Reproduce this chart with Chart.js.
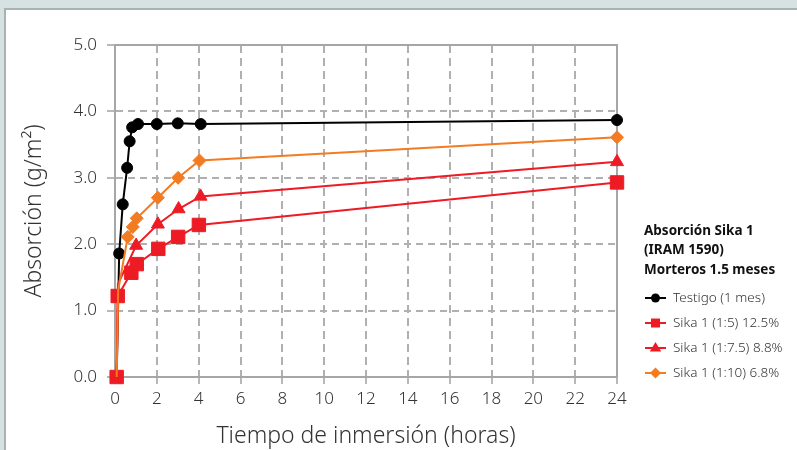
<!DOCTYPE html>
<html>
<head>
<meta charset="utf-8">
<script src="https://cdn.jsdelivr.net/npm/chart.js@4/dist/chart.umd.min.js"></script>
<style>
  html, body { margin: 0; padding: 0; }
  #page { position: relative; width: 797px; height: 450px; background: #d6e2e2; overflow: hidden; }
  #panel { position: absolute; left: 4px; top: 8px; right: 0; bottom: 0; background: #fff;
           border-left: 2px solid #a9b2b2; border-top: 2px solid #a9b2b2; }
  #absChart { position: absolute; left: 0; top: 0; }
</style>
</head>
<body>
<div id="page">
  <div id="panel"></div>
  <canvas id="absChart" width="797" height="450"></canvas>
</div>
<script>
// values (x = horas, y = g/m2)
const seriesNames = ['Testigo (1 mes)', 'Sika 1 (1:5) 12.5%', 'Sika 1 (1:7.5) 8.8%', 'Sika 1 (1:10) 6.8%'];

const testigoX = [0.08, 0.2, 0.37, 0.58, 0.7, 0.82, 1.1, 2, 3, 4.1, 24];
const testigoY = [0, 1.86, 2.6, 3.15, 3.55, 3.76, 3.81, 3.81, 3.82, 3.81, 3.87];

const sika15X = [0.08, 0.13, 0.78, 1.04, 2.07, 3.02, 4.01, 24];
const sika15Y = [0, 1.22, 1.57, 1.70, 1.93, 2.11, 2.29, 2.93];

const sika175X = [0.08, 0.14, 1.01, 2.05, 3.04, 4.09, 24];
const sika175Y = [0, 1.4, 1.98, 2.3, 2.53, 2.72, 3.24];

const sika110X = [0.08, 0.15, 0.61, 0.85, 1.04, 2.05, 3.02, 4.04, 24];
const sika110Y = [0, 1.3, 2.11, 2.26, 2.39, 2.70, 3.00, 3.26, 3.61];

const xTicks = [0, 2, 4, 6, 8, 10, 12, 14, 16, 18, 20, 22, 24];
const yTicks = [0, 1, 2, 3, 4, 5];

const legendTitle = ['Absorción Sika 1', '(IRAM 1590)', 'Morteros 1.5 meses'];

const FONT = "'Noto Sans', 'DejaVu Sans', sans-serif";
const TXT = '#333333';
const GRID = '#b0b0b0';

const toPoints = (xs, ys) => xs.map((x, i) => ({ x: x, y: ys[i] }));

// marker hidden on the points where the reference shows none
const radii = (n, hidden, r) => Array.from({ length: n }, (_, i) => hidden.includes(i) ? 0 : r);

const colors = ['#000000', '#ed1c24', '#ed1c24', '#f37b21'];
const styles = ['circle', 'rect', 'triangle', 'rectRot'];
const sizes = [5.5, 9.5, 7.5, 6.5];

const datasets = [
  { x: testigoX, y: testigoY, hidden: [0] },
  { x: sika15X, y: sika15Y, hidden: [] },
  { x: sika175X, y: sika175Y, hidden: [0, 1] },
  { x: sika110X, y: sika110Y, hidden: [0, 1] },
].map((s, i) => ({
  label: seriesNames[i],
  data: toPoints(s.x, s.y),
  borderColor: colors[i],
  backgroundColor: colors[i],
  borderWidth: 2,
  pointStyle: styles[i],
  pointRadius: radii(s.x.length, s.hidden, sizes[i]),
  pointBorderWidth: 1,
  pointHoverRadius: radii(s.x.length, s.hidden, sizes[i]),
  tension: 0,
  clip: false,
  order: 3 - i,
}));

// solid frame around the plot area
const framePlugin = {
  id: 'frame',
  beforeDatasetsDraw(chart) {
    const { ctx, chartArea: a } = chart;
    ctx.save();
    ctx.strokeStyle = '#a6a6a6';
    ctx.lineWidth = 2;
    ctx.strokeRect(a.left, a.top, a.right - a.left, a.bottom - a.top);
    ctx.restore();
  }
};

function marker(ctx, style, x, y, r) {
  ctx.beginPath();
  if (style === 'circle') {
    ctx.arc(x, y, r, 0, Math.PI * 2);
  } else if (style === 'rect') {
    ctx.rect(x - r, y - r, 2 * r, 2 * r);
  } else if (style === 'triangle') {
    ctx.moveTo(x, y - r);
    ctx.lineTo(x + r * 0.95, y + r * 0.6);
    ctx.lineTo(x - r * 0.95, y + r * 0.6);
    ctx.closePath();
  } else {
    ctx.moveTo(x, y - r);
    ctx.lineTo(x + r, y);
    ctx.lineTo(x, y + r);
    ctx.lineTo(x - r, y);
    ctx.closePath();
  }
  ctx.fill();
}

// legend with its three-line bold heading, at the right of the plot
const legendPlugin = {
  id: 'sideLegend',
  afterDraw(chart) {
    const ctx = chart.ctx;
    ctx.save();
    ctx.fillStyle = '#111';
    ctx.textBaseline = 'middle';
    ctx.font = "bold 13.5px " + FONT;
    legendTitle.forEach((t, i) => ctx.fillText(t, 644, 231 + i * 19.5));
    ctx.font = "300 13.5px " + FONT;
    const legendSizes = [4.5, 4.5, 6, 5.5];
    chart.data.datasets.forEach((ds, i) => {
      const y = 298 + i * 25;
      ctx.strokeStyle = ds.borderColor;
      ctx.fillStyle = ds.borderColor;
      ctx.lineWidth = 2;
      ctx.beginPath();
      ctx.moveTo(645, y);
      ctx.lineTo(666, y);
      ctx.stroke();
      marker(ctx, styles[i], 655.5, y, legendSizes[i]);
      ctx.fillStyle = TXT;
      ctx.fillText(ds.label, 673, y);
    });
    ctx.restore();
  }
};

new Chart(document.getElementById('absChart').getContext('2d'), {
  type: 'line',
  data: { datasets: datasets },
  plugins: [framePlugin, legendPlugin],
  options: {
    responsive: false,
    animation: false,
    devicePixelRatio: 1,
    layout: { padding: { left: 0, top: 45, right: 180, bottom: 0 } },
    plugins: { legend: { display: false }, tooltip: { enabled: false } },
    scales: {
      x: {
        type: 'linear',
        min: 0,
        max: 24,
        afterBuildTicks: (s) => { s.ticks = xTicks.map(v => ({ value: v })); },
        afterFit: (s) => { s.height = 73; },
        grid: { color: GRID, lineWidth: 2, tickLength: 7, tickColor: '#a0a0a0', tickWidth: 1.5 },
        border: { display: true, color: '#a6a6a6', width: 2, dash: [8, 5] },
        ticks: { color: TXT, font: { family: FONT, size: 17, weight: 300 }, padding: 5, maxRotation: 0 },
        title: { display: true, text: 'Tiempo de inmersión (horas)', color: TXT,
                 font: { family: FONT, size: 23, weight: 300 }, padding: { top: 0, bottom: 0 } },
      },
      y: {
        type: 'linear',
        min: 0,
        max: 5,
        afterBuildTicks: (s) => { s.ticks = yTicks.map(v => ({ value: v })); },
        afterFit: (s) => { s.width = 115; },
        grid: { color: GRID, lineWidth: 2, tickLength: 8, tickColor: '#a0a0a0', tickWidth: 1.5 },
        border: { display: true, color: '#a6a6a6', width: 2, dash: [7, 5] },
        ticks: { color: TXT, font: { family: FONT, size: 17, weight: 300 }, padding: 10,
                 callback: (v) => Number(v).toFixed(1) },
        title: { display: true, text: 'Absorción (g/m²)', color: TXT,
                 font: { family: FONT, size: 23, weight: 300 }, padding: { top: 21, bottom: 0 } },
      },
    },
  },
});
</script>
</body>
</html>
